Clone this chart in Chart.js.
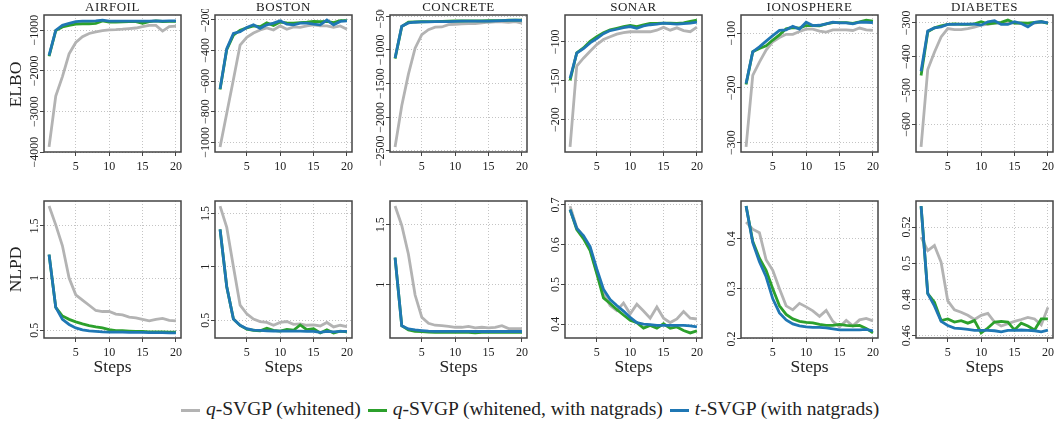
<!DOCTYPE html>
<html>
<head>
<meta charset="utf-8">
<script src="https://cdn.jsdelivr.net/npm/chart.js@4/dist/chart.umd.min.js"></script>
<style>
  body { margin: 0; background: #fff; font-family: "Liberation Serif", serif; color: #222; }
  #wrap { position: relative; width: 1055px; height: 425px; overflow: hidden; }
  canvas { position: absolute; }
  .title { position: absolute; width: 137px; text-align: center; font-size: 13px; letter-spacing: .5px; top: -1px; }
  .xlab { position: absolute; width: 137px; text-align: center; font-size: 17.5px; top: 356px; }
  .ylab { position: absolute; font-size: 17.5px; width: 60px; text-align: center; transform: rotate(-90deg); }
  #legend { position: absolute; left: 181px; top: 398px; white-space: nowrap; font-size: 19.5px; line-height: 22px; }
  #legend .sw { display: inline-block; width: 19px; height: 3px; vertical-align: middle; margin: 0 6px 0 0; }
  #legend .it { margin-right: 7px; }
</style>
</head>
<body>
<div id="wrap"></div>
<script>
const steps = [1, 2, 3, 4, 5, 6, 7, 8, 9, 10, 11, 12, 13, 14, 15, 16, 17, 18, 19, 20];
const datasetNames = ['AIRFOIL', 'BOSTON', 'CONCRETE', 'SONAR', 'IONOSPHERE', 'DIABETES'];
const seriesNames = ['q-SVGP (whitened)', 'q-SVGP (whitened, with natgrads)', 't-SVGP (with natgrads)'];
const seriesColors = ['#b3b3b3', '#2ca02c', '#1f77b4'];
const xTicks = [5, 10, 15, 20];

// ELBO (top row): gray = whitened, green = whitened + natgrads, blue = t-SVGP
const airfoilElboGray = [-3870, -2620, -2140, -1580, -1300, -1160, -1080, -1040, -1010, -990, -985, -975, -960, -945, -910, -880, -880, -1020, -910, -900];
const airfoilElboGreen = [-1640, -1010, -920, -880, -850, -840, -840, -830, -770, -800, -800, -795, -790, -790, -830, -790, -770, -785, -780, -780];
const airfoilElboBlue = [-1620, -1000, -880, -830, -790, -775, -775, -770, -750, -775, -775, -775, -775, -775, -775, -775, -770, -775, -770, -770];
const bostonElboGray = [-1030, -810, -590, -365, -315, -287, -267, -253, -267, -240, -262, -247, -250, -240, -233, -240, -240, -250, -240, -262];
const bostonElboGreen = [-655, -395, -300, -268, -253, -240, -245, -220, -237, -215, -220, -222, -218, -215, -210, -212, -210, -218, -205, -205];
const bostonElboBlue = [-651, -389, -289, -278, -251, -233, -256, -233, -222, -207, -229, -233, -222, -222, -229, -233, -202, -233, -211, -207];
const concreteElboGray = [-2440, -1830, -1360, -975, -775, -700, -662, -660, -625, -620, -615, -610, -610, -600, -590, -585, -585, -590, -580, -605];
const concreteElboGreen = [-1130, -655, -590, -585, -583, -582, -580, -578, -575, -570, -572, -570, -570, -570, -568, -565, -565, -560, -558, -560];
const concreteElboBlue = [-1120, -650, -600, -590, -585, -585, -580, -580, -580, -578, -575, -575, -575, -573, -575, -570, -565, -562, -560, -562];
const sonarElboGray = [-235, -131, -121, -112, -103.5, -97, -93.4, -90, -88, -87, -87, -87, -87, -85, -81.4, -85, -82, -85.5, -87, -81];
const sonarElboGreen = [-149.6, -114, -107.9, -99.2, -93.4, -88.2, -84.6, -82.5, -80.3, -79, -80.3, -78, -76.3, -76.3, -75.9, -75.9, -76.3, -75.5, -73.7, -72];
const sonarElboBlue = [-147, -114.5, -108.8, -101.3, -95.7, -89.5, -85.5, -83.8, -81.6, -80.3, -82.5, -79.6, -78, -77.2, -76, -76.5, -77.2, -76.5, -76, -74.6];
const ionoElboGray = [-308, -177, -153, -131, -115.6, -108, -102, -102, -97, -92.5, -92.5, -96, -98, -94, -94, -94, -95, -90.6, -94, -95];
const ionoElboGreen = [-194, -134, -128, -123, -112.5, -103, -92, -89.6, -90.6, -86, -86, -86.5, -83, -80.6, -80.6, -80.6, -81.9, -79.4, -76, -78];
const ionoElboBlue = [-192, -134, -125, -114.4, -104.4, -95, -93.8, -87.5, -92.5, -80, -86, -85.5, -83, -80, -81, -81, -83, -80, -80, -80.6];
const diabetesElboGray = [-667, -438, -387, -342, -317, -320, -320, -317, -313, -307, -305, -301, -301, -301, -301, -301, -307, -301, -297, -300];
const diabetesElboGreen = [-456, -327, -315, -309, -305, -303, -305, -305, -303, -297, -303, -301, -299, -292, -301, -300, -301, -299, -297, -302];
const diabetesElboBlue = [-443, -324, -315, -312, -305, -305, -304, -304, -304, -307, -297, -294, -305, -305, -297, -302, -312, -299, -297, -300];

// NLPD (bottom row)
const airfoilNlpdGray = [1.69, 1.51, 1.31, 1.0, 0.84, 0.79, 0.74, 0.69, 0.68, 0.68, 0.655, 0.648, 0.627, 0.62, 0.605, 0.59, 0.605, 0.615, 0.595, 0.59];
const airfoilNlpdGreen = [1.225, 0.72, 0.637, 0.605, 0.581, 0.562, 0.546, 0.533, 0.523, 0.506, 0.497, 0.497, 0.493, 0.49, 0.49, 0.485, 0.485, 0.484, 0.482, 0.482];
const airfoilNlpdBlue = [1.225, 0.72, 0.605, 0.556, 0.523, 0.505, 0.495, 0.49, 0.485, 0.483, 0.483, 0.482, 0.481, 0.48, 0.48, 0.478, 0.478, 0.477, 0.476, 0.475];
const bostonNlpdGray = [1.57, 1.37, 1.0, 0.64, 0.56, 0.51, 0.487, 0.478, 0.452, 0.478, 0.487, 0.46, 0.465, 0.452, 0.455, 0.445, 0.478, 0.436, 0.452, 0.44];
const bostonNlpdGreen = [1.352, 0.813, 0.51, 0.45, 0.415, 0.405, 0.4, 0.423, 0.404, 0.397, 0.413, 0.405, 0.455, 0.41, 0.42, 0.38, 0.41, 0.38, 0.397, 0.39];
const bostonNlpdBlue = [1.352, 0.813, 0.51, 0.452, 0.42, 0.407, 0.404, 0.4, 0.398, 0.397, 0.397, 0.396, 0.396, 0.395, 0.395, 0.385, 0.394, 0.39, 0.395, 0.394];
const concreteNlpdGray = [1.655, 1.494, 1.254, 0.915, 0.731, 0.68, 0.664, 0.66, 0.655, 0.647, 0.647, 0.655, 0.642, 0.647, 0.642, 0.647, 0.66, 0.636, 0.636, 0.636];
const concreteNlpdGreen = [1.226, 0.66, 0.625, 0.613, 0.61, 0.606, 0.605, 0.605, 0.605, 0.605, 0.605, 0.605, 0.6, 0.605, 0.607, 0.605, 0.605, 0.605, 0.605, 0.605];
const concreteNlpdBlue = [1.226, 0.66, 0.633, 0.625, 0.62, 0.615, 0.613, 0.613, 0.613, 0.613, 0.613, 0.613, 0.612, 0.612, 0.612, 0.613, 0.612, 0.612, 0.612, 0.612];
const sonarNlpdGray = [0.697, 0.643, 0.62, 0.59, 0.53, 0.478, 0.447, 0.434, 0.453, 0.426, 0.45, 0.433, 0.415, 0.443, 0.415, 0.404, 0.413, 0.432, 0.415, 0.413];
const sonarNlpdGreen = [0.688, 0.638, 0.615, 0.585, 0.527, 0.466, 0.452, 0.437, 0.423, 0.41, 0.404, 0.39, 0.397, 0.39, 0.401, 0.39, 0.393, 0.384, 0.378, 0.383];
const sonarNlpdBlue = [0.688, 0.641, 0.623, 0.595, 0.539, 0.488, 0.462, 0.447, 0.433, 0.417, 0.404, 0.4, 0.399, 0.397, 0.397, 0.397, 0.397, 0.397, 0.396, 0.393];
const ionoNlpdGray = [0.433, 0.419, 0.412, 0.358, 0.337, 0.3, 0.266, 0.258, 0.271, 0.264, 0.256, 0.245, 0.257, 0.235, 0.224, 0.237, 0.226, 0.238, 0.241, 0.236];
const ionoNlpdGreen = [0.465, 0.395, 0.361, 0.337, 0.3, 0.266, 0.249, 0.24, 0.235, 0.233, 0.232, 0.229, 0.227, 0.227, 0.229, 0.227, 0.226, 0.227, 0.221, 0.212];
const ionoNlpdBlue = [0.465, 0.392, 0.354, 0.324, 0.28, 0.252, 0.238, 0.23, 0.226, 0.224, 0.223, 0.223, 0.222, 0.22, 0.218, 0.218, 0.218, 0.218, 0.219, 0.216];
const diabetesNlpdGray = [0.5144, 0.507, 0.5098, 0.5006, 0.4793, 0.4743, 0.473, 0.4713, 0.469, 0.4713, 0.4724, 0.4676, 0.4654, 0.4667, 0.468, 0.469, 0.4702, 0.4693, 0.466, 0.4757];
const diabetesNlpdGreen = [0.5316, 0.4833, 0.4785, 0.4684, 0.4693, 0.4676, 0.4684, 0.467, 0.4684, 0.4616, 0.4643, 0.4676, 0.468, 0.4676, 0.4632, 0.467, 0.4654, 0.4632, 0.4693, 0.4693];
const diabetesNlpdBlue = [0.5316, 0.4833, 0.4765, 0.468, 0.4657, 0.4643, 0.464, 0.4636, 0.463, 0.463, 0.463, 0.4628, 0.4622, 0.463, 0.463, 0.4632, 0.463, 0.4628, 0.4622, 0.4632];

// y tick values per panel
const elboTicks = [
  [-4000, -3000, -2000, -1000],
  [-1000, -800, -600, -400, -200],
  [-2500, -2000, -1500, -1000, -500],
  [-200, -150, -100],
  [-300, -200, -100],
  [-600, -500, -400, -300]
];
const nlpdTicks = [
  [0.5, 1, 1.5],
  [0.5, 1, 1.5],
  [1, 1.5],
  [0.4, 0.5, 0.6, 0.7],
  [0.2, 0.3, 0.4],
  [0.46, 0.48, 0.5, 0.52]
];

const elboSeries = [
  [airfoilElboGray, airfoilElboGreen, airfoilElboBlue],
  [bostonElboGray, bostonElboGreen, bostonElboBlue],
  [concreteElboGray, concreteElboGreen, concreteElboBlue],
  [sonarElboGray, sonarElboGreen, sonarElboBlue],
  [ionoElboGray, ionoElboGreen, ionoElboBlue],
  [diabetesElboGray, diabetesElboGreen, diabetesElboBlue]
];
const nlpdSeries = [
  [airfoilNlpdGray, airfoilNlpdGreen, airfoilNlpdBlue],
  [bostonNlpdGray, bostonNlpdGreen, bostonNlpdBlue],
  [concreteNlpdGray, concreteNlpdGreen, concreteNlpdBlue],
  [sonarNlpdGray, sonarNlpdGreen, sonarNlpdBlue],
  [ionoNlpdGray, ionoNlpdGreen, ionoNlpdBlue],
  [diabetesNlpdGray, diabetesNlpdGreen, diabetesNlpdBlue]
];

// layout
const plotLefts = [44, 215, 390, 565, 741, 916];
const rowTops = [15, 201];
const plotW = 137, plotH = 137;
const padL = 40, padT = 6, padR = 8, padB = 26;

const wrap = document.getElementById('wrap');

function fmt(v) {
  return v < 0 ? '\u2212' + Math.abs(v) : String(v);
}

// R style range: data range stretched by 4% each side
function rRange(arrs) {
  let lo = Infinity, hi = -Infinity;
  arrs.forEach(a => a.forEach(v => { lo = Math.min(lo, v); hi = Math.max(hi, v); }));
  const d = (hi - lo) * 0.04;
  return [lo - d, hi + d];
}

const frameAndLabels = {
  id: 'frameAndLabels',
  afterDraw(chart) {
    const ctx = chart.ctx, a = chart.chartArea, y = chart.scales.y;
    ctx.save();
    ctx.fillStyle = '#222';
    ctx.font = '12px "Liberation Serif"';
    ctx.textAlign = 'center';
    ctx.textBaseline = 'alphabetic';
    y.ticks.forEach(t => {
      ctx.save();
      ctx.translate(a.left - 6, y.getPixelForValue(t.value));
      ctx.rotate(-Math.PI / 2);
      ctx.fillText(fmt(t.value), 0, 0);
      ctx.restore();
    });
    ctx.strokeStyle = '#444';
    ctx.lineWidth = 1.5;
    ctx.strokeRect(a.left, a.top, a.right - a.left, a.bottom - a.top);
    ctx.restore();
  }
};

function makePanel(col, row, series, ticks) {
  const cv = document.createElement('canvas');
  const w = padL + plotW + padR, h = padT + plotH + padB;
  cv.width = w; cv.height = h;
  cv.style.left = (plotLefts[col] - padL) + 'px';
  cv.style.top = (rowTops[row] - padT) + 'px';
  wrap.appendChild(cv);

  const yr = rRange(series);
  const xr = rRange([steps]);

  new Chart(cv, {
    type: 'line',
    data: {
      labels: steps,
      datasets: series.map((s, i) => ({
        label: seriesNames[i],
        data: steps.map((x, k) => ({ x: x, y: s[k] })),
        borderColor: seriesColors[i],
        borderWidth: 2.8,
        pointRadius: 0,
        tension: 0,
        fill: false,
        order: 3 - i
      }))
    },
    options: {
      responsive: false,
      animation: false,
      devicePixelRatio: 1,
      layout: { padding: { top: padT, right: padR, left: 0, bottom: 0 } },
      plugins: { legend: { display: false }, tooltip: { enabled: false } },
      scales: {
        x: {
          type: 'linear',
          min: xr[0], max: xr[1],
          afterBuildTicks: s => { s.ticks = xTicks.map(v => ({ value: v })); },
          afterFit: s => { s.height = padB; },
          grid: { color: '#c4c4c4', lineWidth: 1, tickLength: 4, tickColor: '#444', tickWidth: 1 },
          border: { display: false, dash: [1, 2] },
          ticks: { font: { family: 'Liberation Serif', size: 12 }, color: '#222', padding: 4, maxRotation: 0 }
        },
        y: {
          type: 'linear',
          min: yr[0], max: yr[1],
          afterBuildTicks: s => { s.ticks = ticks.map(v => ({ value: v })); },
          afterFit: s => { s.width = padL; },
          grid: { color: '#c4c4c4', lineWidth: 1, tickLength: 4, tickColor: '#444', tickWidth: 1 },
          border: { display: false, dash: [1, 2] },
          ticks: { display: false }
        }
      }
    },
    plugins: [frameAndLabels]
  });
}

for (let c = 0; c < 6; c++) {
  makePanel(c, 0, elboSeries[c], elboTicks[c]);
  makePanel(c, 1, nlpdSeries[c], nlpdTicks[c]);

  const t = document.createElement('div');
  t.className = 'title';
  t.style.left = plotLefts[c] + 'px';
  t.textContent = datasetNames[c];
  wrap.appendChild(t);

  const xl = document.createElement('div');
  xl.className = 'xlab';
  xl.style.left = plotLefts[c] + 'px';
  xl.textContent = 'Steps';
  wrap.appendChild(xl);
}

[['ELBO', 84], ['NLPD', 269]].forEach(([txt, cy]) => {
  const d = document.createElement('div');
  d.className = 'ylab';
  d.textContent = txt;
  d.style.left = (15 - 30) + 'px';
  d.style.top = (cy - 10) + 'px';
  wrap.appendChild(d);
});

// shared legend
const leg = document.createElement('div');
leg.id = 'legend';
seriesNames.forEach((name, i) => {
  const sw = document.createElement('span');
  sw.className = 'sw';
  sw.style.background = seriesColors[i];
  leg.appendChild(sw);
  const txt = document.createElement('span');
  txt.className = 'it';
  const em = document.createElement('i');
  em.textContent = name.charAt(0);
  txt.appendChild(em);
  txt.appendChild(document.createTextNode(name.slice(1)));
  leg.appendChild(txt);
});
wrap.appendChild(leg);
</script>
</body>
</html>
